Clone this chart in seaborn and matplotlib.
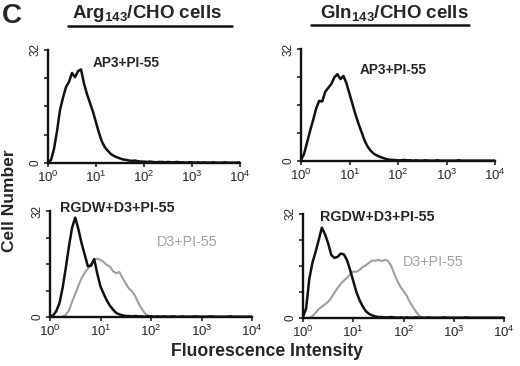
import numpy as np
import matplotlib.pyplot as plt
import seaborn as sns
from matplotlib.lines import Line2D

# flow cytometry histograms, 16 channels per decade starting at 10^0
arg_ap3 = [0.5, 0.8, 4.0, 9.0, 15.0, 18.5, 21.5, 23.0, 25.5, 24.3,
           26.0, 26.5, 22.5, 19.5, 17.0, 14.5, 11.5, 8.5, 6.0, 4.4,
           3.4, 2.5, 2.0, 1.6, 1.3, 1.0, 0.9, 0.7, 0.6, 0.7,
           0.5, 0.4, 0.4, 0.3, 0.4, 0.3, 0.2, 0.3, 0.3, 0.2,
           0.3, 0.2, 0.2, 0.3, 0.2, 0.2, 0.1, 0.2, 0.2, 0.1,
           0.2, 0.1, 0.2, 0.1, 0.1, 0.2, 0.1, 0.1, 0.1, 0.2,
           0.1, 0.1, 0.1, 0.1, 0.2]
gln_ap3 = [0.3, 2.0, 5.3, 8.6, 11.7, 15.0, 17.2, 17.0, 19.8, 20.9,
           22.0, 23.9, 24.8, 23.4, 24.3, 22.2, 19.2, 16.2, 13.2, 10.6,
           8.2, 5.8, 4.1, 2.9, 2.1, 1.6, 1.2, 0.9, 0.6, 0.4,
           0.3, 0.3, 0.2, 0.2, 0.3, 0.2, 0.2, 0.1, 0.2, 0.1,
           0.1, 0.2, 0.1, 0.1, 0.1, 0.2, 0.1, 0.1, 0.1, 0.1,
           0.1, 0.1, 0.2, 0.1, 0.1, 0.1, 0.1, 0.1, 0.1, 0.1,
           0.1, 0.1, 0.1, 0.1, 0.1]
arg_rgdw = [0.2, 0.5, 1.8, 4.2, 8.8, 14.8, 21.3, 27.0, 30.0, 26.5,
            22.3, 18.8, 15.3, 15.5, 17.5, 13.0, 9.2, 7.0, 5.0, 3.4,
            2.2, 1.2, 0.8, 0.5, 0.3, 0.3, 0.2, 0.3, 0.2, 0.2,
            0.1, 0.2, 0.2, 0.1, 0.2, 0.1, 0.2, 0.1, 0.1, 0.2,
            0.1, 0.1, 0.2, 0.1, 0.1, 0.1, 0.2, 0.1, 0.1, 0.1,
            0.1, 0.2, 0.1, 0.1, 0.1, 0.1, 0.1, 0.2, 0.1, 0.1,
            0.1, 0.1, 0.1, 0.1, 0.1]
arg_d3 = [0.0, 0.0, 0.0, 0.0, 0.1, 0.7, 2.0, 4.6, 7.0, 9.5,
          11.7, 13.3, 14.6, 16.0, 17.3, 17.6, 17.2, 16.6, 15.7, 15.2,
          13.8, 13.2, 13.6, 11.8, 10.1, 8.6, 7.8, 6.3, 4.2, 2.6,
          1.2, 0.4, 0.1]
gln_rgdw = [0.3, 3.0, 12.0, 17.0, 20.3, 24.0, 27.8, 25.8, 23.0, 19.4,
            18.5, 18.8, 19.8, 19.6, 17.8, 14.8, 11.4, 8.0, 5.5, 3.6,
            2.1, 1.3, 0.8, 0.5, 0.3, 0.3, 0.2, 0.2, 0.3, 0.2,
            0.1, 0.2, 0.1, 0.2, 0.1, 0.1, 0.2, 0.1, 0.1, 0.1,
            0.2, 0.1, 0.1, 0.1, 0.1, 0.2, 0.1, 0.1, 0.1, 0.1,
            0.1, 0.1, 0.2, 0.1, 0.1, 0.1, 0.1, 0.1, 0.1, 0.1,
            0.1, 0.1, 0.1, 0.1, 0.1]
gln_d3 = [0.0, 0.0, 0.0, 0.6, 1.6, 2.7, 3.5, 4.2, 5.0, 6.2,
          7.8, 9.2, 10.5, 11.5, 12.4, 13.4, 14.3, 14.2, 14.8, 15.7,
          16.2, 17.0, 17.7, 17.6, 17.9, 17.5, 17.9, 17.6, 16.2, 13.8,
          11.5, 9.6, 8.3, 6.9, 4.9, 3.4, 1.9, 0.7, 0.1]

W, H = 520, 366
BLACK = "#111111"
GRAY = "#a0a0a0"

sns.set_style("ticks")
plt.rcParams['font.family'] = ['Liberation Sans', 'DejaVu Sans']
plt.rcParams['mathtext.fontset'] = 'custom'
plt.rcParams['mathtext.rm'] = 'Liberation Sans'
plt.rcParams['mathtext.bf'] = 'Liberation Sans:bold'
plt.rcParams['mathtext.it'] = 'Liberation Sans:italic'

fig = plt.figure(figsize=(W / 100, H / 100), dpi=100)


def px_axes(x0, y0, x1, y1):
    return fig.add_axes([x0 / W, 1 - y1 / H, (x1 - x0) / W, (y1 - y0) / H])


def channels(vals):
    return 10 ** (np.arange(len(vals)) / 16)


def panel(ax, curves):
    for vals, color, lw in curves:
        sns.lineplot(x=channels(vals), y=vals, ax=ax, color=color, lw=lw)
    ax.set_xscale('log')
    ax.set_xlim(1, 1e4)
    ax.set_ylim(0, 32)
    ax.set_yticks([0, 8, 16, 24, 32])
    ax.set_yticklabels(['0', '', '', '', '32'], rotation=90, va='center')
    ax.set_xticks([1, 10, 100, 1000, 10000])
    ax.minorticks_off()
    sns.despine(ax=ax)
    for s in ['left', 'bottom']:
        ax.spines[s].set_linewidth(1.7)
        ax.spines[s].set_color(BLACK)
    ax.tick_params(axis='both', which='major', length=3, width=1.1, color=BLACK)
    ax.tick_params(axis='x', which='major', labelsize=9.5, pad=2)
    ax.tick_params(axis='y', which='major', labelsize=8.5, pad=1.5)
    ax.set_xlabel('')
    ax.set_ylabel('')
    ax.patch.set_alpha(0)


ax1 = px_axes(48, 50, 240, 163)
panel(ax1, [(arg_ap3, BLACK, 1.8)])
ax2 = px_axes(301, 49, 495, 161)
panel(ax2, [(gln_ap3, BLACK, 1.8)])
ax3 = px_axes(50, 211, 252, 317)
panel(ax3, [(arg_d3, GRAY, 1.5), (arg_rgdw, BLACK, 1.8)])
ax4 = px_axes(303, 214, 504, 318)
panel(ax4, [(gln_d3, GRAY, 1.5), (gln_rgdw, BLACK, 1.8)])


def ftext(x, y, s, **kw):
    fig.text(x / W, 1 - y / H, s, **kw)


ftext(2, 23, 'C', fontsize=20, fontweight='bold', ha='left', va='baseline')
ftext(147, 13, r'Arg$_{\mathbf{143}}$/CHO cells', fontsize=13.5, fontweight='bold',
      ha='center', va='center')
ftext(394, 13, r'Gln$_{\mathbf{143}}$/CHO cells', fontsize=13.5, fontweight='bold',
      ha='center', va='center')
for x0, x1, y in [(68, 232, 26), (311, 469, 25)]:
    fig.add_artist(Line2D([x0 / W, x1 / W], [1 - y / H, 1 - y / H],
                          color=BLACK, lw=1.8, transform=fig.transFigure))

ftext(10, 201, 'Cell Number', fontsize=12.5, fontweight='bold', rotation=90,
      ha='center', va='center')
ftext(267, 352, 'Fluorescence Intensity', fontsize=12.7, fontweight='bold',
      ha='center', va='center')

ftext(93, 63, 'AP3+PI-55', fontsize=9.8, fontweight='bold', ha='left', va='center')
ftext(360, 70, 'AP3+PI-55', fontsize=9.8, fontweight='bold', ha='left', va='center')
ftext(60, 208, 'RGDW+D3+PI-55', fontsize=10.3, fontweight='bold', ha='left', va='center')
ftext(320, 217, 'RGDW+D3+PI-55', fontsize=10.3, fontweight='bold', ha='left', va='center')
ftext(157, 242, 'D3+PI-55', fontsize=10.3, color=GRAY, ha='left', va='center')
ftext(403, 262, 'D3+PI-55', fontsize=10.3, color=GRAY, ha='left', va='center')

fig.savefig('out.png', dpi=100)
